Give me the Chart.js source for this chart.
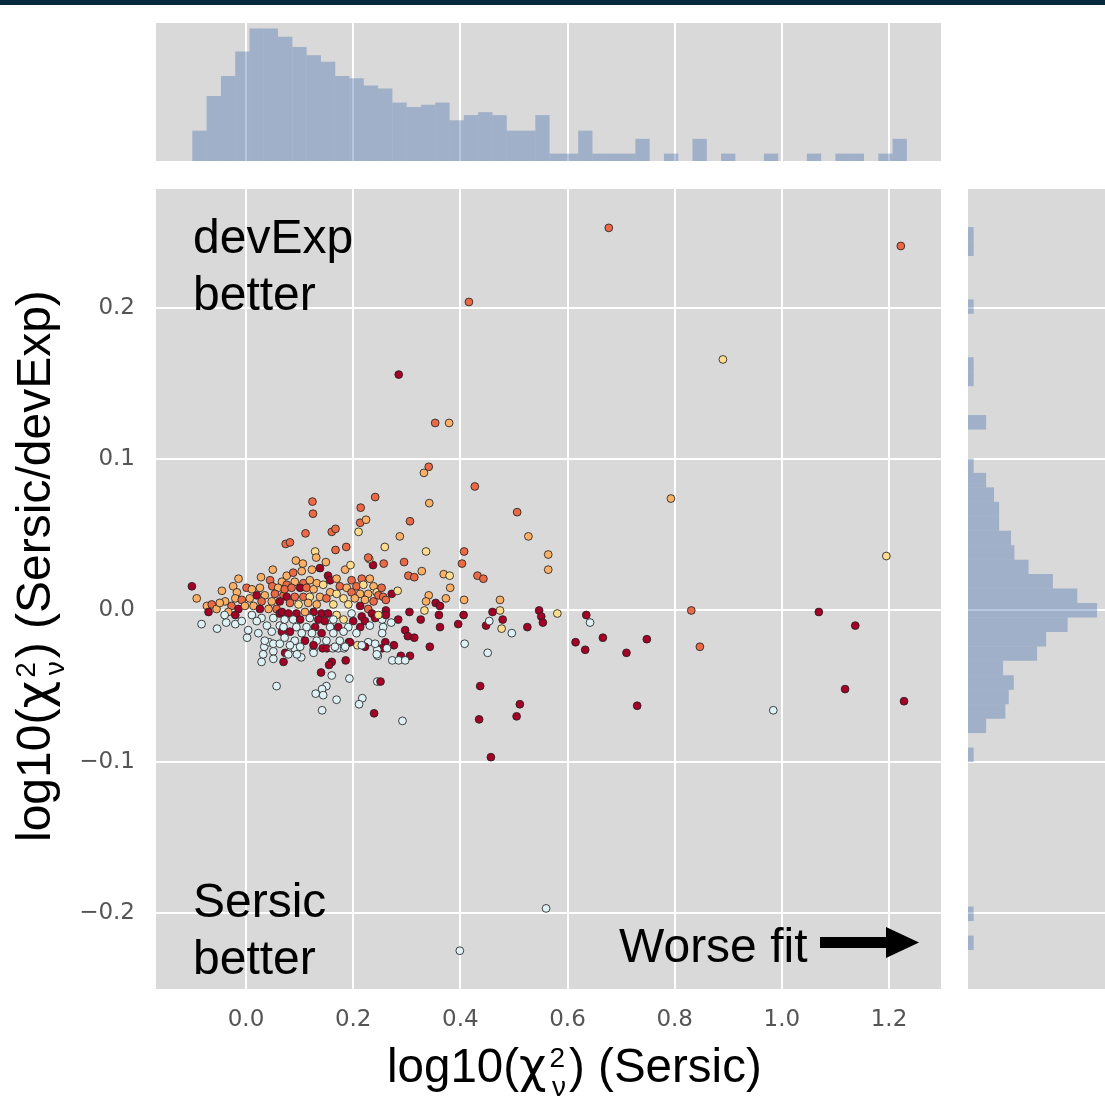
<!DOCTYPE html>
<html>
<head>
<meta charset="utf-8">
<script src="https://cdn.jsdelivr.net/npm/chart.js@4.4.1/dist/chart.umd.min.js"></script>
<style>
  body { margin: 0; background: #fff; width: 1105px; height: 1097px; overflow: hidden; position: relative; }
  .band { position: absolute; left: 0; top: 0; width: 1105px; height: 5px; background: #082a3e; }
  canvas { position: absolute; }
  #mainChart { left: 0; top: 0; }
  #topHist { left: 156px; top: 23px; }
  #rightHist { left: 968px; top: 189px; }
  svg { position: absolute; left: 0; top: 0; pointer-events: none; }
  svg text { font-family: "Liberation Sans", Arial, sans-serif; fill: #000; }
</style>
</head>
<body>
<div class="band"></div>
<canvas id="mainChart" width="1105" height="1097"></canvas>
<canvas id="topHist" width="785" height="138"></canvas>
<canvas id="rightHist" width="137" height="800"></canvas>

<svg width="1105" height="1097">
  <text x="193" y="253" font-size="48">devExp</text>
  <text x="193" y="310" font-size="48">better</text>
  <text x="193" y="917" font-size="48">Sersic</text>
  <text x="193" y="974" font-size="48">better</text>
  <text x="619" y="962" font-size="48">Worse fit</text>
  <rect x="820" y="937" width="68" height="11" fill="#000"></rect>
  <polygon points="886,927 919,942.5 886,958" fill="#000"></polygon>
  <text x="387" y="1082" font-size="47.5">log10(<tspan font-family="DejaVu Sans">χ</tspan><tspan dx="3" dy="-15" font-size="28">2</tspan><tspan dx="-13" dy="29" font-size="28">ν</tspan><tspan dx="3" dy="-14">) (Sersic)</tspan></text>
  <text transform="translate(50,842) rotate(-90)" x="0" y="0" font-size="48">log10(<tspan font-family="DejaVu Sans">χ</tspan><tspan dx="3" dy="-15" font-size="28">2</tspan><tspan dx="-13" dy="29" font-size="28">ν</tspan><tspan dx="3" dy="-14">) (Sersic/devExp)</tspan></text>
</svg>

<script>
// tick positions
const xTickValues = [0, 0.2, 0.4, 0.6, 0.8, 1.0, 1.2];
const yTickValues = [-0.2, -0.1, 0, 0.1, 0.2];

// log10(chi2_nu) of the Sersic fit, one entry per galaxy
const sersicChi = [
  // sparse points
  0.677, 1.222, 0.890, 0.793, 1.195, 0.506, 0.527, 0.564, 0.564, 0.474,
  0.474, 0.479, 0.477, 0.496, 0.525, 0.547, 0.551, 0.554, 0.581, 0.635,
  0.642, 0.615, 0.633, 0.666, 0.710, 0.748, 0.831, 0.847, 1.069, 1.137,
  0.730, 0.984, 1.118, 1.228, 0.560, 0.399, 0.416, 0.285, 0.353, 0.379,
  0.341, 0.332, 0.457,
  // cloud edge
  0.427, 0.342, 0.124, 0.125, 0.241, 0.214, 0.213, 0.224, 0.306, 0.111,
  0.160, 0.167, 0.210, 0.287, 0.074, 0.082, 0.259, 0.407, 0.167, 0.187,
  0.336, 0.129, 0.131, 0.149, 0.138, 0.093, 0.106, 0.050, -0.014, -0.101,
  -0.092, -0.045, -0.024, 0.185, 0.195, 0.257, 0.237, 0.295, 0.230, 0.403,
  0.328, 0.303, 0.314, 0.369, 0.380, 0.432, 0.443, 0.381, 0.341, 0.336,
  0.373, 0.407, 0.354, 0.362, 0.360, 0.362, 0.333, 0.406, 0.396, 0.448,
  0.460, 0.454, 0.326, 0.305, 0.284, 0.297, 0.302, 0.314, 0.271, 0.254,
  0.256, 0.254, 0.343, 0.408, 0.451, 0.260, 0.276, 0.254, 0.263, 0.245,
  0.246, 0.289, 0.306, 0.273, 0.285, 0.297, 0.228, 0.222, 0.208, 0.192,
  0.186, 0.160, 0.155, 0.140, 0.160, 0.193, 0.150, 0.142, 0.130, 0.144,
  0.169, 0.142, 0.057, 0.029, 0.217, 0.211, 0.239, 0.292, 0.245, 0.251,
  0.437, 0.435, 0.511, 0.505, -0.083, -0.054, -0.037, -0.020, 0.002, 0.073,
  0.079, 0.051, 0.034, 0.043, 0.091, 0.103, 0.095, 0.126, 0.126, 0.143,
  0.151, 0.162, 0.172, 0.183,
  // cloud, left part
  0.028, 0.045, 0.067, -0.017, 0.001, 0.011, 0.026, 0.049, 0.060, 0.020,
  0.035, 0.054, 0.070, -0.039, -0.020, -0.008, 0.007, 0.029, 0.048, 0.063,
  -0.073, -0.064, -0.055, -0.049, -0.027, -0.014, -0.002, 0.014, 0.026, 0.042,
  0.057, -0.070, -0.033, -0.020, -0.040, 0.011, 0.029, 0.051, 0.063, -0.008,
  0.020, 0.039, 0.063, 0.004, 0.023, 0.048, 0.067, 0.035, 0.051, 0.063,
  0.032, 0.051, 0.070,
  // cloud, middle part
  0.228, 0.076, 0.088, 0.104, 0.123, 0.153, 0.157, 0.169, 0.197, 0.216,
  0.231, 0.076, 0.091, 0.107, 0.119, 0.132, 0.144, 0.175, 0.188, 0.206,
  0.219, 0.238, 0.072, 0.085, 0.101, 0.113, 0.126, 0.157, 0.169, 0.197,
  0.213, 0.228, 0.244, 0.076, 0.091, 0.107, 0.119, 0.138, 0.150, 0.182,
  0.203, 0.222, 0.238, 0.082, 0.098, 0.116, 0.132, 0.163, 0.191, 0.213,
  0.228, 0.067, 0.079, 0.094, 0.110, 0.126, 0.141, 0.153, 0.169, 0.197,
  0.216, 0.235, 0.072, 0.088, 0.101, 0.119, 0.135, 0.147, 0.163, 0.182,
  0.200, 0.222, 0.241, 0.070, 0.094, 0.113, 0.129, 0.157, 0.172, 0.191,
  0.213, 0.231, 0.082, 0.104, 0.123, 0.141, 0.163, 0.182, 0.206, 0.072,
  0.091, 0.110, 0.132, 0.150, 0.175, 0.194, 0.216, 0.241, 0.082, 0.101,
  0.126, 0.166, 0.185, 0.244,
  // cloud, right part
  0.253, 0.247, 0.256, 0.272, 0.283, 0.261, 0.261, 0.261, 0.247
];

// log10(chi2_nu Sersic / chi2_nu devExp)
const chiRatio = [
  0.253, 0.241, 0.166, 0.074, 0.036, 0.065, 0.049, 0.037, 0.027, 0.007,
  0.000, -0.006, -0.012, -0.015, -0.011, 0.000, -0.004, -0.008, -0.002, -0.003,
  -0.008, -0.021, -0.026, -0.018, -0.028, -0.019, 0.000, -0.024, -0.001, -0.010,
  -0.063, -0.066, -0.052, -0.060, -0.197, -0.225, 0.204, 0.156, 0.124, 0.124,
  0.095, 0.091, -0.097,

  0.082, 0.071, 0.072, 0.064, 0.075, 0.068, 0.058, 0.060, 0.059, 0.051,
  0.052, 0.054, 0.052, 0.049, 0.044, 0.045, 0.042, 0.039, 0.040, 0.042,
  0.039, 0.039, 0.035, 0.032, 0.028, 0.033, 0.031, 0.027, 0.021, 0.016,
  0.008, 0.013, 0.016, 0.027, 0.030, 0.031, 0.030, 0.032, 0.034, 0.031,
  0.026, 0.023, 0.022, 0.024, 0.023, 0.023, 0.021, 0.015, 0.010, 0.006,
  0.008, 0.007, 0.005, 0.003, -0.003, -0.011, 0.000, -0.003, -0.009, -0.010,
  -0.001, -0.007, -0.006, -0.001, -0.006, -0.013, -0.017, -0.018, -0.008, -0.006,
  -0.011, -0.015, -0.024, -0.022, -0.028, -0.021, -0.023, -0.025, -0.025, -0.026,
  -0.030, -0.030, -0.030, -0.033, -0.033, -0.033, -0.021, -0.024, -0.023, -0.021,
  -0.033, -0.034, -0.036, -0.041, -0.043, -0.045, -0.050, -0.052, -0.055, -0.056,
  -0.059, -0.066, -0.050, -0.034, -0.058, -0.062, -0.068, -0.073, -0.047, -0.047,
  -0.050, -0.072, -0.062, -0.070, -0.009, -0.012, -0.008, -0.009, -0.018, -0.028,
  -0.029, -0.027, -0.024, -0.021, -0.025, -0.031, -0.029, -0.026, -0.028, -0.025,
  -0.025, -0.025, -0.025, -0.025,

  0.022, 0.020, 0.019, 0.012, 0.015, 0.014, 0.015, 0.016, 0.015, 0.010,
  0.010, 0.011, 0.010, 0.006, 0.008, 0.007, 0.008, 0.006, 0.006, 0.006,
  0.003, 0.004, 0.001, 0.005, 0.003, 0.001, 0.003, 0.003, 0.001, 0.001,
  0.001, -0.001, -0.001, -0.003, -0.003, -0.003, -0.005, -0.005, -0.002, -0.007,
  -0.007, -0.010, -0.010, -0.013, -0.015, -0.014, -0.014, -0.020, -0.022, -0.022,
  -0.029, -0.032, -0.034,

  0.035, 0.023, 0.025, 0.026, 0.027, 0.023, 0.020, 0.021, 0.020, 0.021,
  0.021, 0.017, 0.019, 0.018, 0.020, 0.018, 0.017, 0.016, 0.015, 0.016,
  0.017, 0.016, 0.014, 0.015, 0.015, 0.015, 0.014, 0.012, 0.011, 0.012,
  0.011, 0.011, 0.012, 0.009, 0.009, 0.009, 0.009, 0.009, 0.008, 0.008,
  0.008, 0.007, 0.006, 0.005, 0.004, 0.005, 0.004, 0.004, 0.004, 0.003,
  0.001, -0.001, -0.002, -0.002, -0.001, -0.001, -0.002, -0.002, -0.003, -0.002,
  -0.004, -0.002, -0.006, -0.006, -0.006, -0.005, -0.006, -0.007, -0.006, -0.006,
  -0.007, -0.007, -0.005, -0.011, -0.011, -0.011, -0.011, -0.011, -0.011, -0.011,
  -0.011, -0.010, -0.014, -0.015, -0.015, -0.015, -0.015, -0.014, -0.015, -0.018,
  -0.020, -0.020, -0.020, -0.020, -0.020, -0.021, -0.023, -0.022, -0.023, -0.024,
  -0.023, -0.024, -0.024, -0.029,

  0.015, 0.010, 0.009, 0.011, 0.013, 0.007, 0.000, -0.003, -0.003
];

// colour class of each point (r dark red, o red-orange, a orange, y yellow, b pale blue)
const pointClass = [
  'o','o','y','a','y','o','a','a','a','a',
  'y','r','y','b','r','r','r','r','y','r',
  'b','r','r','r','r','r','o','o','r','r',
  'r','b','r','r','b','b','o','r','o','a',
  'o','a','r',

  'o','a','o','o','o','o','o','a','o','o',
  'o','o','y','a','o','o','y','o','o','o',
  'y','y','a','a','r','a','a','a','a','r',
  'a','a','a','a','y','o','r','o','y','o',
  'a','o','o','a','y','o','o','a','a','a',
  'a','a','r','r','r','r','y','r','r','r',
  'r','b','r','r','r','r','r','r','b','b',
  'b','b','r','b','b','r','r','r','b','b',
  'b','r','r','b','b','b','b','r','y','r',
  'r','r','r','r','b','b','b','b','b','b',
  'b','b','b','b','b','b','r','b','b','r',
  'r','r','r','r','b','b','b','b','b','r',
  'b','b','b','b','b','b','b','b','b','r',
  'r','b','b','b',

  'a','o','a','a','o','a','a','o','a','r',
  'a','o','o','a','a','o','a','o','a','r',
  'a','o','a','a','o','r','a','a','r','a',
  'o','r','a','r','b','b','b','b','r','b',
  'b','b','b','b','b','b','r','b','b','b',
  'b','b','r',

  'o','a','o','a','a','r','r','a','o','o',
  'a','o','a','o','a','a','y','o','a','o',
  'y','a','o','o','r','o','a','a','y','o',
  'a','a','y','r','o','o','y','a','o','y',
  'a','a','o','o','y','a','a','y','y','r',
  'o','r','r','r','a','r','r','r','y','b',
  'r','r','b','b','r','b','r','r','b','y',
  'r','r','r','b','b','b','r','b','r','b',
  'r','b','r','b','b','r','b','b','b','b',
  'b','r','b','b','b','r','b','b','b','b',
  'r','b','b','b',

  'o','o','o','r','y','o','r','r','y'
];

const classColours = { r: '#a50026', o: '#eb6a45', a: '#fcb066', y: '#fedd8e', b: '#def1f5' };

// top marginal histogram (x), bin heights read left to right
const topBinStart = -0.1002;
const topBinWidth = 0.02667;
const topHistCounts = [
  4.1, 8.8, 11.5, 14.8, 17.9, 17.9, 16.8, 15.4, 14.3, 13.4,
  11.5, 11.2, 10.2, 9.8, 7.9, 7.3, 7.6, 7.9, 5.5, 6.2,
  6.6, 6.2, 4.1, 4.1, 6.2, 1, 1, 4.1, 1, 1,
  1, 3, 0, 1, 0, 3, 0, 1, 0, 0,
  1, 0, 0, 1, 0, 1, 1, 0, 1, 3
];

// right marginal histogram (y), bin heights read bottom to top
const rightBinStart = -0.2245;
const rightBinWidth = 0.00956;
const rightHistCounts = [
  1, 0, 1, 0, 0, 0, 0, 0, 0, 0,
  0, 0, 0, 1, 0, 3.2, 6.6, 7.2, 8.1, 6.2,
  12.2, 13.8, 17.6, 22.8, 19.3, 15, 10.7, 8.2, 7.6, 5.5,
  5.5, 4.6, 3.2, 1, 0, 0, 3.2, 0, 0, 1,
  1, 0, 0, 0, 1, 0, 0, 0, 1, 1
];

const xRange = { min: -0.168, max: 1.297 };
const yRange = { min: -0.2503, max: 0.2787 };

if (sersicChi.length !== chiRatio.length || sersicChi.length !== pointClass.length) {
  console.error('point arrays differ', sersicChi.length, chiRatio.length, pointClass.length);
}

const panelColour = '#d9d9d9';
const histColour = 'rgba(76, 114, 176, 0.4)';

// grey panel behind grid
const panelBackground = {
  id: 'panelBackground',
  beforeDraw(chart) {
    const { ctx, chartArea } = chart;
    ctx.save();
    ctx.fillStyle = panelColour;
    ctx.fillRect(chartArea.left, chartArea.top, chartArea.right - chartArea.left, chartArea.bottom - chartArea.top);
    ctx.restore();
  }
};

const tickText = v => (v < 0 ? '\u2212' : '') + Math.abs(v).toFixed(1);
const gridStyle = { color: '#ffffff', lineWidth: 2, drawTicks: false, offset: false };
const tickFont = { family: 'DejaVu Sans', size: 23 };

const points = sersicChi.map((x, i) => ({ x: x, y: chiRatio[i] }));

new Chart(document.getElementById('mainChart'), {
  type: 'scatter',
  data: {
    datasets: [{
      data: points,
      pointBackgroundColor: pointClass.map(c => classColours[c]),
      pointBorderColor: 'rgba(35, 35, 35, 0.85)',
      pointBorderWidth: 1,
      pointRadius: 3.9
    }]
  },
  options: {
    responsive: false,
    animation: false,
    events: [],
    layout: { padding: { left: 0, top: 189, right: 164, bottom: 0 } },
    plugins: { legend: { display: false }, tooltip: { enabled: false } },
    scales: {
      x: {
        type: 'linear', min: xRange.min, max: xRange.max,
        afterBuildTicks: s => { s.ticks = xTickValues.map(v => ({ value: v })); },
        afterFit: s => { s.height = 108; },
        grid: gridStyle,
        border: { display: false },
        ticks: { color: '#555555', font: tickFont, padding: 17, maxRotation: 0, callback: tickText }
      },
      y: {
        type: 'linear', min: yRange.min, max: yRange.max,
        afterBuildTicks: s => { s.ticks = yTickValues.map(v => ({ value: v })); },
        afterFit: s => { s.width = 156; },
        grid: gridStyle,
        border: { display: false },
        ticks: { color: '#555555', font: tickFont, padding: 21, callback: tickText }
      }
    }
  },
  plugins: [panelBackground]
});

new Chart(document.getElementById('topHist'), {
  type: 'bar',
  data: {
    datasets: [{
      data: topHistCounts.map((c, i) => ({ x: topBinStart + (i + 0.5) * topBinWidth, y: c })),
      backgroundColor: histColour,
      borderWidth: 0,
      barPercentage: 1,
      categoryPercentage: 1,
      inflateAmount: 0
    }]
  },
  options: {
    responsive: false,
    animation: false,
    events: [],
    layout: { padding: 0 },
    plugins: { legend: { display: false }, tooltip: { enabled: false } },
    scales: {
      x: {
        type: 'linear', min: xRange.min, max: xRange.max, offset: false,
        afterBuildTicks: s => { s.ticks = xTickValues.map(v => ({ value: v })); },
        afterFit: s => { s.height = 0; },
        grid: gridStyle,
        border: { display: false },
        ticks: { display: false }
      },
      y: { type: 'linear', display: false, min: 0, max: 18.65 }
    }
  },
  plugins: [panelBackground]
});

new Chart(document.getElementById('rightHist'), {
  type: 'bar',
  data: {
    datasets: [{
      data: rightHistCounts.map((c, i) => ({ y: rightBinStart + (i + 0.5) * rightBinWidth, x: c })),
      backgroundColor: histColour,
      borderWidth: 0,
      barPercentage: 1,
      categoryPercentage: 1,
      inflateAmount: 0
    }]
  },
  options: {
    indexAxis: 'y',
    responsive: false,
    animation: false,
    events: [],
    layout: { padding: 0 },
    plugins: { legend: { display: false }, tooltip: { enabled: false } },
    scales: {
      y: {
        type: 'linear', min: yRange.min, max: yRange.max, offset: false,
        afterBuildTicks: s => { s.ticks = yTickValues.map(v => ({ value: v })); },
        afterFit: s => { s.width = 0; },
        grid: gridStyle,
        border: { display: false },
        ticks: { display: false }
      },
      x: { type: 'linear', display: false, min: 0, max: 24.2 }
    }
  },
  plugins: [panelBackground]
});
</script>
</body>
</html>
